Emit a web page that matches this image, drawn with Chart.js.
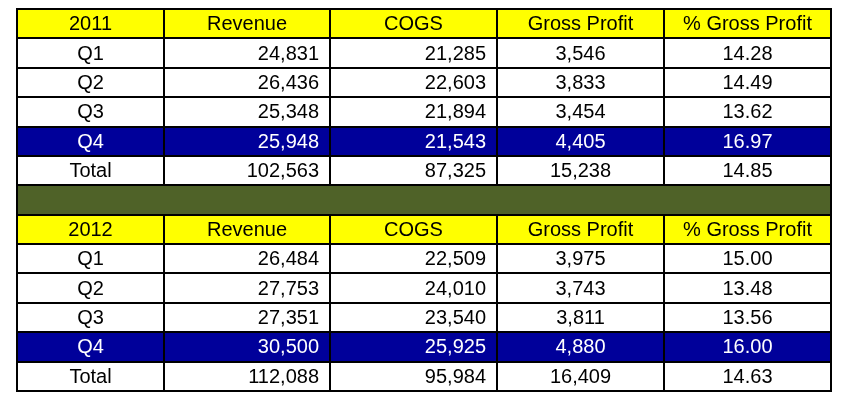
<!DOCTYPE html>
<html>
<head>
<meta charset="utf-8">
<title>Quarterly Gross Profit 2011-2012</title>
<script src="https://cdn.jsdelivr.net/npm/chart.js@4/dist/chart.umd.min.js"></script>
<style>
  html, body { margin: 0; padding: 0; background: #ffffff; }
  #tableChart { display: block; }
</style>
</head>
<body>
<canvas id="tableChart" width="853" height="406"></canvas>
<script>
// Table data
const years = ['2011', '2012'];
const columnTitles = ['Revenue', 'COGS', 'Gross Profit', '% Gross Profit'];
const quarters = ['Q1', 'Q2', 'Q3', 'Q4', 'Total'];

const revenue2011 = [24831, 26436, 25348, 25948, 102563];
const cogs2011 = [21285, 22603, 21894, 21543, 87325];
const grossProfit2011 = [3546, 3833, 3454, 4405, 15238];
const pctGrossProfit2011 = [14.28, 14.49, 13.62, 16.97, 14.85];

const revenue2012 = [26484, 27753, 27351, 30500, 112088];
const cogs2012 = [22509, 24010, 23540, 25925, 95984];
const grossProfit2012 = [3975, 3743, 3811, 4880, 16409];
const pctGrossProfit2012 = [15.00, 13.48, 13.56, 16.00, 14.63];

const highlightRow = 'Q4';

// Layout (table units along x)
const columnEdges = [0, 147, 313, 480, 647, 814];
const columnAlign = ['center', 'right', 'right', 'center', 'center'];
const cellPadding = 11;

const colors = {
  header: '#FFFF00',
  highlight: '#00009A',
  band: '#4F6228',
  plain: '#FFFFFF',
  grid: '#000000'
};

const fmtInt = v => v.toLocaleString('en-US');
const fmtPct = v => v.toFixed(2);

// Build row list: header, quarter rows, band between the two years
function yearRows(year, rev, cogs, gp, pct) {
  const rows = [{ kind: 'header', cells: [year, ...columnTitles] }];
  quarters.forEach((q, i) => {
    rows.push({
      kind: q === highlightRow ? 'highlight' : 'plain',
      cells: [q, fmtInt(rev[i]), fmtInt(cogs[i]), fmtInt(gp[i]), fmtPct(pct[i])]
    });
  });
  return rows;
}

const tableRows = [
  ...yearRows(years[0], revenue2011, cogs2011, grossProfit2011, pctGrossProfit2011),
  { kind: 'band', cells: [] },
  ...yearRows(years[1], revenue2012, cogs2012, grossProfit2012, pctGrossProfit2012)
];

const rowLabels = tableRows.map((r, i) => 'row' + i);
const rowSpans = tableRows.map(() => [columnEdges[0], columnEdges[columnEdges.length - 1]]);
const rowFills = tableRows.map(r => colors[r.kind]);

// Grid lines and cell text
const tablePlugin = {
  id: 'tableCells',
  afterDatasetsDraw(chart) {
    const ctx = chart.ctx;
    const xs = chart.scales.x;
    const ys = chart.scales.y;
    const rowH = ys.getPixelForValue(1) - ys.getPixelForValue(0);
    const left = xs.getPixelForValue(columnEdges[0]);
    const right = xs.getPixelForValue(columnEdges[columnEdges.length - 1]);

    ctx.save();
    ctx.strokeStyle = colors.grid;
    ctx.lineWidth = 2;

    // horizontal lines
    for (let i = 0; i <= tableRows.length; i++) {
      const y = Math.round(ys.getPixelForValue(i) - rowH / 2);
      ctx.beginPath();
      ctx.moveTo(left - 1, y);
      ctx.lineTo(right + 1, y);
      ctx.stroke();
    }

    // vertical lines (band row only keeps the outer border)
    tableRows.forEach((row, i) => {
      const top = ys.getPixelForValue(i) - rowH / 2;
      const bottom = top + rowH;
      columnEdges.forEach((edge, c) => {
        const isOuter = c === 0 || c === columnEdges.length - 1;
        if (row.kind === 'band' && !isOuter) return;
        const x = Math.round(xs.getPixelForValue(edge));
        ctx.beginPath();
        ctx.moveTo(x, top);
        ctx.lineTo(x, bottom);
        ctx.stroke();
      });
    });

    // text
    ctx.font = '20px "Liberation Sans", Arial, sans-serif';
    ctx.textBaseline = 'middle';
    tableRows.forEach((row, i) => {
      const yMid = ys.getPixelForValue(i) + 1;
      ctx.fillStyle = row.kind === 'highlight' ? '#FFFFFF' : '#000000';
      row.cells.forEach((text, c) => {
        const x0 = xs.getPixelForValue(columnEdges[c]);
        const x1 = xs.getPixelForValue(columnEdges[c + 1]);
        const align = row.kind === 'header' ? 'center' : columnAlign[c];
        ctx.textAlign = align;
        const x = align === 'right' ? x1 - cellPadding : (x0 + x1) / 2;
        ctx.fillText(text, x, yMid);
      });
    });
    ctx.restore();
  }
};

new Chart(document.getElementById('tableChart'), {
  type: 'bar',
  data: {
    labels: rowLabels,
    datasets: [{
      data: rowSpans,
      backgroundColor: rowFills,
      borderWidth: 0,
      barPercentage: 1,
      categoryPercentage: 1
    }]
  },
  options: {
    indexAxis: 'y',
    responsive: false,
    animation: false,
    layout: { padding: { left: 17, right: 22, top: 9, bottom: 15 } },
    plugins: {
      legend: { display: false },
      tooltip: { enabled: false }
    },
    scales: {
      x: { type: 'linear', min: columnEdges[0], max: columnEdges[columnEdges.length - 1], display: false },
      y: { display: false }
    }
  },
  plugins: [tablePlugin]
});
</script>
</body>
</html>
